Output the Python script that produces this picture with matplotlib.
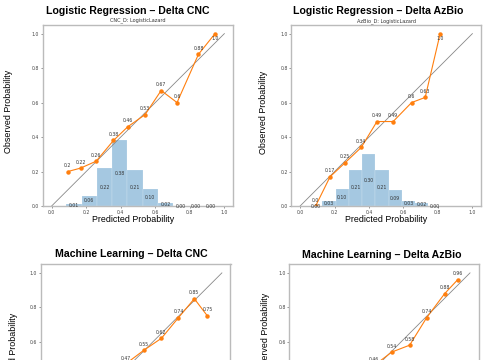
import numpy as np
import matplotlib
matplotlib.use("Agg")
import matplotlib.pyplot as plt

# calibration points (mean predicted, observed fraction)
lr_cnc_x = [0.094, 0.168, 0.258, 0.358, 0.441, 0.541, 0.634, 0.726, 0.85, 0.946]
lr_cnc_y = [0.2, 0.22, 0.26, 0.38, 0.46, 0.53, 0.67, 0.6, 0.88, 1.0]
lr_cnc_hist = [0.01, 0.06, 0.22, 0.38, 0.21, 0.10, 0.02, 0.00, 0.00, 0.00]
lr_cnc_range = (0.085, 0.968)

lr_azb_x = [0.09, 0.174, 0.26, 0.355, 0.446, 0.54, 0.647, 0.726, 0.813]
lr_azb_y = [0.0, 0.17, 0.25, 0.34, 0.49, 0.49, 0.6, 0.63, 1.0]
lr_azb_hist = [0.00, 0.03, 0.10, 0.21, 0.30, 0.21, 0.09, 0.03, 0.02, 0.00]
lr_azb_range = (0.052, 0.822)

ml_cnc_x = [0.44, 0.546, 0.649, 0.748, 0.84, 0.916]
ml_cnc_y = [0.47, 0.55, 0.62, 0.74, 0.85, 0.75]

ml_azb_x = [0.44, 0.545, 0.649, 0.748, 0.853, 0.928]
ml_azb_y = [0.46, 0.54, 0.58, 0.74, 0.88, 0.96]

W, H = 485.0, 360.0
fig = plt.figure(figsize=(4.85, 3.6), dpi=100)

def px_axes(left, top, right, bottom):
    return fig.add_axes([left / W, 1 - bottom / H, (right - left) / W, (bottom - top) / H])

def calib(ax, xs, ys, hist=None, rng=None):
    ax.plot([0, 1], [0, 1], color="#888888", lw=0.6)
    if hist is not None:
        edges = np.linspace(rng[0], rng[1], len(hist) + 1)
        ax.bar(edges[:-1], hist, width=np.diff(edges), align="edge",
               color="#1f77b4", alpha=0.4, edgecolor="white", linewidth=0.3)
        for c, h in zip((edges[:-1] + edges[1:]) / 2, hist):
            ax.text(c, h / 2, f"{h:.2f}", ha="center", va="center", fontsize=3.3, color="#333333")
    ax.plot(xs, ys, "-o", color="#ff7f0e", lw=0.8, ms=2.2)
    for x, y in zip(xs, ys):
        if y >= 0.99:
            ax.annotate(str(round(y, 2)), (x, y), xytext=(0, -1.5), textcoords="offset points",
                        ha="center", va="top", fontsize=3.3, color="#333333")
        else:
            ax.annotate(str(round(y, 2)), (x, y), xytext=(0, 2.5), textcoords="offset points",
                        ha="center", va="bottom", fontsize=3.3, color="#333333")
    ax.set_xlim(-0.05, 1.05)
    ax.set_ylim(0, 1.05)
    ax.set_xticks(np.arange(0, 1.01, 0.2))
    ax.set_yticks(np.arange(0, 1.01, 0.2))
    ax.tick_params(labelsize=3.3, length=1.5, width=0.4, pad=1.2, colors="#444444")
    for s in ax.spines.values():
        s.set_color("#bbbbbb")
        s.set_linewidth(1.0)

ax1 = px_axes(43, 25, 233, 206)
calib(ax1, lr_cnc_x, lr_cnc_y, lr_cnc_hist, lr_cnc_range)
ax2 = px_axes(291.5, 25, 481, 206)
calib(ax2, lr_azb_x, lr_azb_y, lr_azb_hist, lr_azb_range)
ax3 = px_axes(41, 264.3, 230.5, 445)
calib(ax3, ml_cnc_x, ml_cnc_y)
ax4 = px_axes(289.4, 264.3, 478.6, 445)
calib(ax4, ml_azb_x, ml_azb_y)

def ftext(x, y, s, **kw):
    fig.text(x / W, 1 - y / H, s, ha="center", va="center", **kw)

tfont = dict(family="Liberation Sans", fontweight="bold", fontsize=7.6)
ftext(128, 10.5, "Logistic Regression – Delta CNC", **tfont)
ftext(378, 11, "Logistic Regression – Delta AzBio", **tfont)
ftext(131, 254, "Machine Learning – Delta CNC", **tfont)
ftext(382, 255, "Machine Learning – Delta AzBio", **tfont)

sfont = dict(fontsize=3.6, color="#333333")
ftext(138, 20.5, "CNC_D: LogisticLazard", **sfont)
ftext(386.5, 21, "AzBio_D: LogisticLazard", **sfont)

lfont = dict(family="Liberation Sans", fontsize=6.4)
ftext(133, 219.5, "Predicted Probability", **lfont)
ftext(386, 219.5, "Predicted Probability", **lfont)
ftext(9, 111, "Observed Probability", rotation=90, **lfont)
ftext(264, 112, "Observed Probability", rotation=90, **lfont)
ftext(14, 354, "Observed Probability", rotation=90, **lfont)
ftext(266, 334, "Observed Probability", rotation=90, **lfont)

fig.savefig("out.png", dpi=100)
